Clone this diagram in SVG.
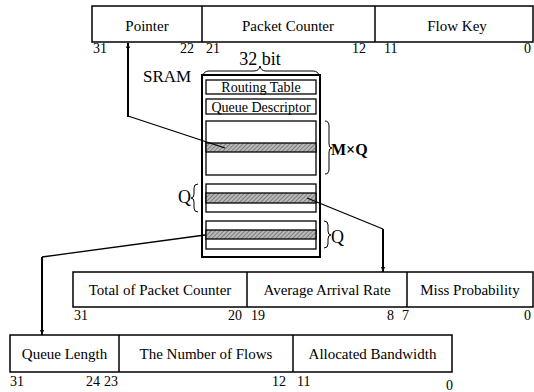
<svg xmlns="http://www.w3.org/2000/svg" width="534" height="392" viewBox="0 0 534 392" font-family="'Liberation Serif', 'Times New Roman', 'DejaVu Serif', serif">
<defs>
<style>
text{font-family:'Liberation Serif','Times New Roman','DejaVu Serif',serif;fill:#000}
.lbl{font-size:15px;text-anchor:middle}
.num{font-size:14px}
.end{text-anchor:end}
.reg{fill:#fff;stroke:#000;stroke-width:1.5}
.box{fill:#fff;stroke:#000;stroke-width:1.3}
.hatch{fill:url(#hp);stroke:#000;stroke-width:1.3}
.brace{fill:none;stroke:#000;stroke-width:1}
.conn{fill:none;stroke:#000;stroke-width:1.3}
.vert{fill:none;stroke:#000;stroke-width:2}
</style>
<pattern id="hp" width="3" height="3" patternUnits="userSpaceOnUse" patternTransform="rotate(45)">
<rect width="3" height="3" fill="#b8b8b8"/>
<line x1="0" y1="0" x2="0" y2="3" stroke="#555" stroke-width="1.2"/>
</pattern>
<marker id="ah" viewBox="0 0 10 10" refX="10" refY="5" markerWidth="5" markerHeight="5" orient="auto" markerUnits="userSpaceOnUse">
<path d="M0,1 L10,5 L0,9 z" fill="#000"/>
</marker>
</defs>

<g id="reg-top">
<rect class="reg" x="92" y="6" width="441" height="36"/>
<line class="reg" x1="202" y1="6" x2="202" y2="42"/>
<line class="reg" x1="375" y1="6" x2="375" y2="42"/>
<text class="lbl" x="147" y="31">Pointer</text>
<text class="lbl" x="288" y="31">Packet Counter</text>
<text class="lbl" x="457" y="31">Flow Key</text>
<text class="num" x="93" y="53">31</text>
<text class="num end" x="194" y="53">22</text>
<text class="num" x="206" y="53">21</text>
<text class="num end" x="366" y="53">12</text>
<text class="num" x="384" y="53">11</text>
<text class="num end" x="531" y="53">0</text>
</g>

<g id="sram">
<text x="143" y="82" style="font-size:17px">SRAM</text>
<text x="260" y="65" style="font-size:18px;text-anchor:middle">32 bit</text>
<path class="brace" d="M203,77 Q203,71 209,71 L254,71 Q259,71 260,66 Q261,71 266,71 L313,71 Q319,71 319,77"/>
<rect x="202" y="75" width="118" height="182" fill="#fff" stroke="#000" stroke-width="2"/>
<rect class="box" x="206" y="80" width="110" height="14"/>
<text x="261" y="92" style="font-size:14px;text-anchor:middle">Routing Table</text>
<rect class="box" x="206" y="99" width="110" height="15"/>
<text x="261" y="111.5" style="font-size:14px;text-anchor:middle">Queue Descriptor</text>
<rect class="box" x="206" y="121" width="110" height="54"/>
<rect class="hatch" x="206" y="143" width="110" height="9"/>
<rect class="box" x="206" y="184" width="110" height="28"/>
<rect class="hatch" x="206" y="193" width="110" height="10"/>
<rect class="box" x="206" y="221" width="110" height="28"/>
<rect class="hatch" x="206" y="230" width="110" height="9"/>
<path class="brace" d="M325,121 Q329,121 329,126 L329,144 Q329,148 332,148 Q329,148 329,152 L329,169 Q329,174 325,174"/>
<text x="331" y="155" style="font-size:16px;font-weight:bold">M×Q</text>
<path class="brace" d="M198,184 Q194,184 194,188 L194,194 Q194,198 191,198 Q194,198 194,202 L194,208 Q194,212 198,212"/>
<text x="178" y="203" style="font-size:18px">Q</text>
<path class="brace" d="M324,221 Q328,221 328,225 L328,231 Q328,235 331,235 Q328,235 328,239 L328,244 Q328,248 324,248"/>
<text x="331" y="243" style="font-size:18px">Q</text>
</g>

<g id="reg-mid">
<rect class="reg" x="73" y="272" width="460" height="35"/>
<line class="reg" x1="247" y1="272" x2="247" y2="307"/>
<line class="reg" x1="407" y1="272" x2="407" y2="307"/>
<text class="lbl" x="160" y="295">Total of Packet Counter</text>
<text class="lbl" x="327" y="295">Average Arrival Rate</text>
<text class="lbl" x="470" y="295">Miss Probability</text>
<text class="num" x="74" y="320">31</text>
<text class="num end" x="242" y="320">20</text>
<text class="num" x="251" y="320">19</text>
<text class="num end" x="394" y="320">8</text>
<text class="num" x="402" y="320">7</text>
<text class="num end" x="531" y="320">0</text>
</g>

<g id="reg-bot">
<rect class="reg" x="10" y="335" width="442" height="37"/>
<line class="reg" x1="119" y1="335" x2="119" y2="372"/>
<line class="reg" x1="293" y1="335" x2="293" y2="372"/>
<text class="lbl" x="64.5" y="359">Queue Length</text>
<text class="lbl" x="206" y="359">The Number of Flows</text>
<text class="lbl" x="372.5" y="359">Allocated Bandwidth</text>
<text class="num" x="10" y="386">31</text>
<text class="num end" x="100" y="386">24</text>
<text class="num" x="104" y="386">23</text>
<text class="num end" x="286" y="386">12</text>
<text class="num" x="297" y="386">11</text>
<text class="num end" x="453" y="390">0</text>
</g>

<g id="connectors">
<polyline class="conn" points="225,148 128,116"/>
<line class="vert" x1="128" y1="117" x2="128" y2="43" marker-end="url(#ah)"/>
<polyline class="conn" points="307,198 383,229"/>
<line class="vert" x1="383" y1="229" x2="383" y2="272" marker-end="url(#ah)"/>
<polyline class="conn" points="205,235 42,257"/>
<line class="vert" x1="42" y1="257" x2="42" y2="335" marker-end="url(#ah)"/>
</g>
</svg>
